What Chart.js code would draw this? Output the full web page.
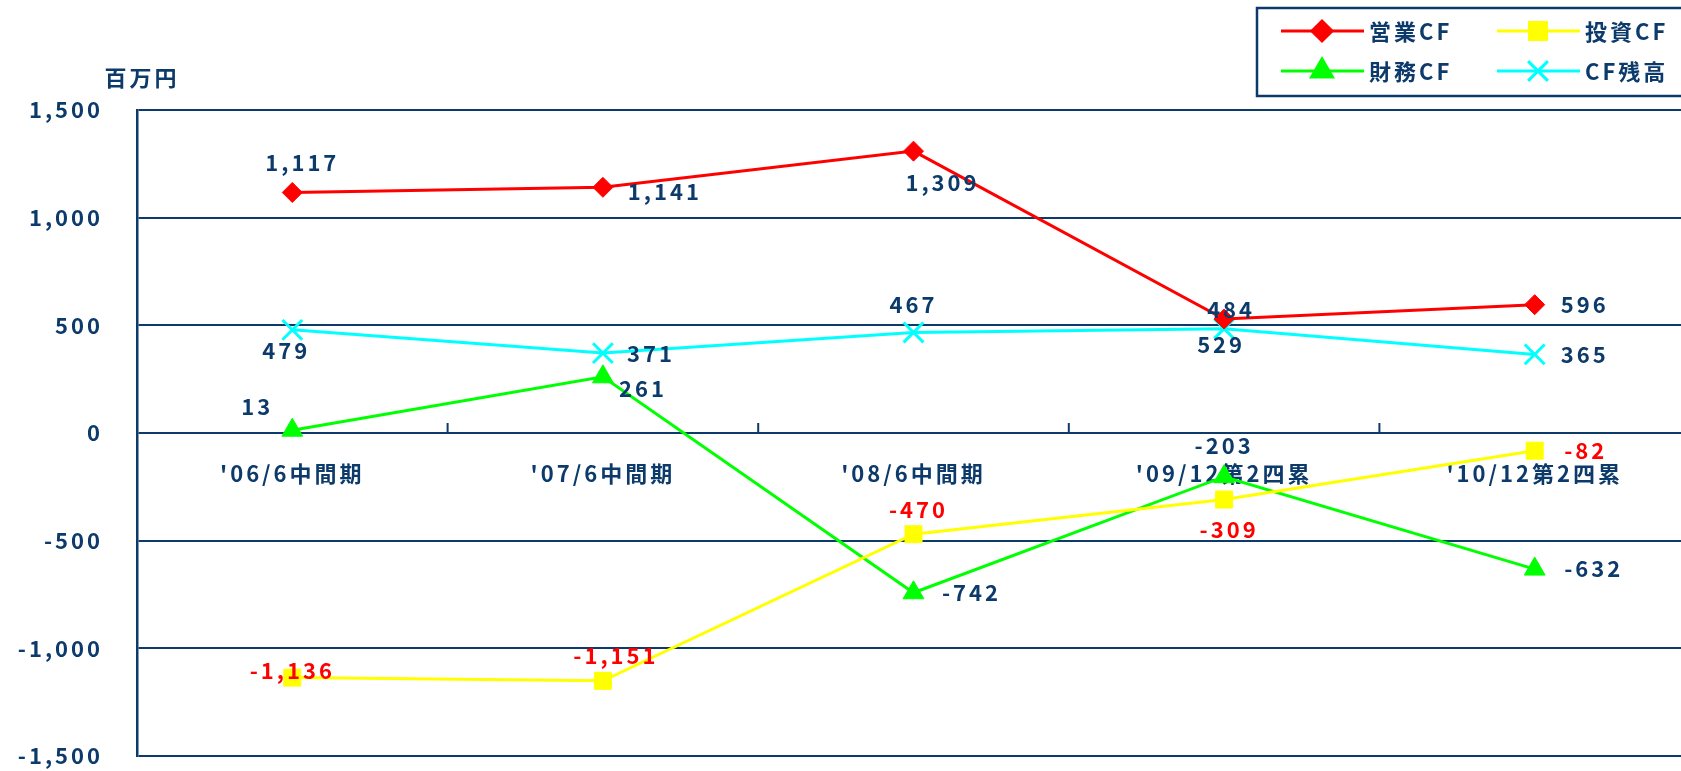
<!DOCTYPE html>
<html>
<head>
<meta charset="utf-8">
<script src="https://cdn.jsdelivr.net/npm/chart.js@4"></script>
<style>
body { margin: 0; overflow: hidden; background: #fff; }
#wrap { width: 1690px; height: 771px; }
</style>
</head>
<body>
<div id="wrap"><canvas id="myChart" width="1690" height="771"></canvas></div>
<script>
const labels = ["'06/6中間期", "'07/6中間期", "'08/6中間期", "'09/12第2四累", "'10/12第2四累"];
const eigyoCF = [1117, 1141, 1309, 529, 596];
const toushiCF = [-1136, -1151, -470, -309, -82];
const zaimuCF = [13, 261, -742, -203, -632];
const zandaka = [479, 371, 467, 484, 365];
const yTicks = [-1500, -1000, -500, 0, 500, 1000, 1500];
const unitLabel = "百万円";

const navy = "#0c3a6b";
const fontFamily = '"Noto Sans CJK JP", sans-serif';

// where each value label sits, relative to its point (px)
const labelShift = [
  [[10, -30], [62, 4], [29, 32], [-3, 26], [50, 0]],
  [[0, -7], [13, -25], [5, -25], [5, 30], [51, 0]],
  [[-35, -24], [40, 12], [58, 0], [0, -31], [59, 0]],
  [[-6, 21], [48, 1], [0, -28], [7, -19], [50, 0]],
];

const fmt = (v) => v.toLocaleString("en-US");

const extras = {
  id: "extras",
  beforeDraw(chart) {
    chart.ctx.letterSpacing = "3px";
  },
  afterDatasetsDraw(chart) {
    const ctx = chart.ctx;
    const xs = chart.scales.x;
    const ys = chart.scales.y;
    const y0 = ys.getPixelForValue(0);
    ctx.save();
    // small tick marks between categories
    ctx.strokeStyle = navy;
    ctx.lineWidth = 2;
    for (let i = 1; i < labels.length; i++) {
      const bx = (xs.getPixelForValue(i - 1) + xs.getPixelForValue(i)) / 2;
      ctx.beginPath();
      ctx.moveTo(bx, y0 - 10);
      ctx.lineTo(bx, y0);
      ctx.stroke();
    }
    // value labels
    ctx.font = "bold 22px " + fontFamily;
    ctx.textAlign = "center";
    ctx.textBaseline = "middle";
    chart.data.datasets.forEach((ds, di) => {
      const meta = chart.getDatasetMeta(di);
      ctx.fillStyle = ds.labelColor;
      meta.data.forEach((pt, i) => {
        const s = labelShift[di][i];
        ctx.fillText(fmt(ds.data[i]), pt.x + s[0], pt.y + s[1]);
      });
    });
    ctx.restore();
  },
  afterDraw(chart) {
    const ctx = chart.ctx;
    ctx.save();
    ctx.font = "bold 22px " + fontFamily;
    ctx.fillStyle = navy;
    ctx.textAlign = "center";
    ctx.textBaseline = "middle";
    ctx.fillText(unitLabel, 142, 78);

    // legend box
    ctx.strokeStyle = navy;
    ctx.lineWidth = 2.5;
    ctx.strokeRect(1257, 8, 500, 88);
    const cols = [1281, 1497];
    const rows = [31, 71];
    ctx.textAlign = "left";
    chart.data.datasets.forEach((ds, di) => {
      const lx = cols[di % 2];
      const ly = rows[Math.floor(di / 2)];
      ctx.strokeStyle = ds.borderColor;
      ctx.fillStyle = ds.borderColor;
      ctx.lineWidth = 3;
      ctx.beginPath();
      ctx.moveTo(lx, ly);
      ctx.lineTo(lx + 83, ly);
      ctx.stroke();
      Chart.helpers.drawPoint(ctx, {
        pointStyle: ds.pointStyle,
        radius: ds.pointRadius,
        borderWidth: ds.pointBorderWidth,
        rotation: 0,
      }, lx + 41, ly);
      ctx.fillStyle = navy;
      ctx.fillText(ds.label, lx + 88, ly + 1);
    });
    ctx.restore();
  },
};

const config = {
  type: "line",
  data: {
    labels: labels,
    datasets: [
      {
        label: "営業CF",
        data: eigyoCF,
        borderColor: "#ff0000",
        backgroundColor: "#ff0000",
        pointBackgroundColor: "#ff0000",
        pointBorderColor: "#ff0000",
        pointStyle: "rectRot",
        pointRadius: 10,
        pointBorderWidth: 1,
        borderWidth: 3,
        labelColor: navy,
      },
      {
        label: "投資CF",
        data: toushiCF,
        borderColor: "#ffff00",
        backgroundColor: "#ffff00",
        pointBackgroundColor: "#ffff00",
        pointBorderColor: "#ffff00",
        pointStyle: "rect",
        pointRadius: 12,
        pointBorderWidth: 1,
        borderWidth: 3,
        labelColor: "#ff0000",
      },
      {
        label: "財務CF",
        data: zaimuCF,
        borderColor: "#00ff00",
        backgroundColor: "#00ff00",
        pointBackgroundColor: "#00ff00",
        pointBorderColor: "#00ff00",
        pointStyle: "triangle",
        pointRadius: 12,
        pointBorderWidth: 1,
        borderWidth: 3,
        labelColor: navy,
      },
      {
        label: "CF残高",
        data: zandaka,
        borderColor: "#00ffff",
        backgroundColor: "#00ffff",
        pointBackgroundColor: "#00ffff",
        pointBorderColor: "#00ffff",
        pointStyle: "crossRot",
        pointRadius: 14,
        pointBorderWidth: 3,
        borderWidth: 3,
        labelColor: navy,
      },
    ],
  },
  options: {
    responsive: false,
    animation: false,
    layout: { autoPadding: false, padding: { top: 110, left: 0, right: 0, bottom: 15 } },
    plugins: {
      legend: { display: false },
      tooltip: { enabled: false },
    },
    scales: {
      x: {
        position: { y: 0 },
        offset: true,
        grid: { display: false, offset: true },
        border: { display: false },
        afterFit: (s) => {
          s.height = 0;
          s.paddingLeft = 0;
          s.paddingRight = 0;
        },
        ticks: {
          color: navy,
          padding: 19,
          maxRotation: 0,
          autoSkip: false,
          font: { family: fontFamily, size: 22, weight: "bold" },
        },
      },
      y: {
        min: -1500,
        max: 1500,
        afterBuildTicks: (s) => { s.ticks = yTicks.map((v) => ({ value: v })); },
        afterFit: (s) => {
          s.width = 137;
          s.paddingTop = 0;
          s.paddingBottom = 0;
        },
        grid: { color: navy, lineWidth: 2, drawTicks: false },
        border: { color: navy, width: 2.5 },
        ticks: {
          color: navy,
          padding: 34,
          callback: (v) => fmt(v),
          font: { family: fontFamily, size: 22, weight: "bold" },
        },
      },
    },
  },
  plugins: [extras],
};

var myChart = new Chart(document.getElementById("myChart"), config);
</script>
</body>
</html>
